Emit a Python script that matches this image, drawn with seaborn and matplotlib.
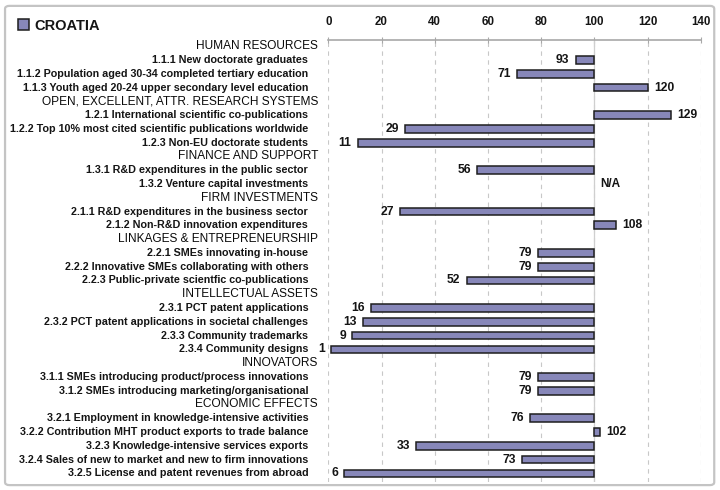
"""
Croatia innovation indicators - bars relative to EU = 100
"""
import numpy as np
import pandas as pd
import matplotlib.pyplot as plt
import seaborn as sns
from matplotlib.patches import Patch, FancyBboxPatch
from matplotlib.transforms import blended_transform_factory

sns.set_theme(style='white')
plt.rcParams['font.family'] = ['Liberation Sans', 'DejaVu Sans']

# --- data ---
labels = [
    'HUMAN RESOURCES',
    '1.1.1 New doctorate graduates',
    '1.1.2 Population aged 30-34 completed tertiary education',
    '1.1.3 Youth aged 20-24 upper secondary level education',
    'OPEN, EXCELLENT, ATTR. RESEARCH SYSTEMS',
    '1.2.1 International scientific co-publications',
    '1.2.2 Top 10% most cited scientific publications worldwide',
    '1.2.3 Non-EU doctorate students',
    'FINANCE AND SUPPORT',
    '1.3.1 R&D expenditures in the public sector',
    '1.3.2 Venture capital investments',
    'FIRM INVESTMENTS',
    '2.1.1 R&D expenditures in the business sector',
    '2.1.2 Non-R&D innovation expenditures',
    'LINKAGES & ENTREPRENEURSHIP',
    '2.2.1 SMEs innovating in-house',
    '2.2.2 Innovative SMEs collaborating with others',
    '2.2.3 Public-private scientfic co-publications',
    'INTELLECTUAL ASSETS',
    '2.3.1 PCT patent applications',
    '2.3.2 PCT patent applications in societal challenges',
    '2.3.3 Community trademarks',
    '2.3.4 Community designs',
    'INNOVATORS',
    '3.1.1 SMEs introducing product/process innovations',
    '3.1.2 SMEs introducing marketing/organisational',
    'ECONOMIC EFFECTS',
    '3.2.1 Employment in knowledge-intensive activities',
    '3.2.2 Contribution MHT product exports to trade balance',
    '3.2.3 Knowledge-intensive services exports',
    '3.2.4 Sales of new to market and new to firm innovations',
    '3.2.5 License and patent revenues from abroad',
]
# None = section heading, nan = not available
values = [None, 93, 71, 120,
          None, 129, 29, 11,
          None, 56, np.nan,
          None, 27, 108,
          None, 79, 79, 52,
          None, 16, 13, 9, 1,
          None, 79, 79,
          None, 76, 102, 33, 73, 6]
xticks = [0, 20, 40, 60, 80, 100, 120, 140]
country = 'CROATIA'

df = pd.DataFrame({'label': labels, 'value': values})
df['row'] = np.arange(len(df))
df['header'] = df['value'].isna() & df['label'].str.isupper()

bar_color = '#8787b9'
edge_color = '#1e1e1e'
text_color = '#151515'

fig = plt.figure(figsize=(7.2, 4.9), dpi=100)
ax = fig.add_axes([0.456, 0.017, 0.5172, 0.9014])

# figure frame
fig.patches.append(FancyBboxPatch((0.007, 0.01), 0.985, 0.978, boxstyle='round,pad=0,rounding_size=0.006',
                                  transform=fig.transFigure, fill=False, edgecolor='#c4c4c4', linewidth=1.6))

# bars from 100 to value
bars = df[df['value'].notna() & ~df['header']]
bars = bars[np.isfinite(bars['value'].astype(float))]
ax.barh(bars['row'], bars['value'].astype(float) - 100, left=100, height=0.56,
        color=bar_color, edgecolor=edge_color, linewidth=1.1, zorder=3)

for _, r in bars.iterrows():
    v = float(r['value'])
    if v < 100:
        ax.annotate(f'{v:.0f}', (v, r['row']), xytext=(-4.5, 0), textcoords='offset points',
                    ha='right', va='center', fontsize=8.7, fontweight='bold', color=text_color)
    else:
        ax.annotate(f'{v:.0f}', (v, r['row']), xytext=(4.5, 0), textcoords='offset points',
                    ha='left', va='center', fontsize=8.7, fontweight='bold', color=text_color)

# N/A rows
for _, r in df[~df['header'] & df['value'].isna()].iterrows():
    ax.annotate('N/A', (100, r['row']), xytext=(4, 0), textcoords='offset points',
                ha='left', va='center', fontsize=8.5, fontweight='bold', color=text_color)

# row labels
trans = blended_transform_factory(fig.transFigure, ax.transData)
for _, r in df.iterrows():
    if r['header']:
        ax.text(0.4417, r['row'], r['label'], transform=trans, ha='right', va='center',
                fontsize=8.6, color='#0a0a0a', clip_on=False)
    else:
        ax.text(0.428, r['row'], r['label'], transform=trans, ha='right', va='center',
                fontsize=7.75, fontweight='bold', color=text_color, clip_on=False)

# axes styling
ax.set_xlim(0, 140)
ax.set_ylim(31.6, -0.45)
ax.set_xticks(xticks)
ax.set_xticklabels([str(t) for t in xticks], fontsize=8.3, fontweight='bold', color=text_color)
ax.set_yticks([])
ax.xaxis.tick_top()
ax.tick_params(axis='x', direction='inout', length=5, width=0.8, color='#a8a8a8', pad=6)
for side in ['left', 'right', 'bottom']:
    ax.spines[side].set_visible(False)
ax.spines['top'].set_color('#a8a8a8')
ax.spines['top'].set_linewidth(1.2)
for t in xticks:
    ax.axvline(t, color='#c8c8c8', linestyle=(0, (4, 4)), linewidth=0.8, zorder=0)
ax.axvline(100, color='#cfcfcf', linewidth=0.9, zorder=1)

# legend / title
fig.legend(handles=[Patch(facecolor=bar_color, edgecolor=edge_color, linewidth=1.1, label=country)],
           loc='upper left', bbox_to_anchor=(0.025, 0.962), frameon=False, borderpad=0, borderaxespad=0,
           prop={'weight': 'bold', 'size': 10.5}, handlelength=0.75, handleheight=0.75, handletextpad=0.35,
           labelcolor=text_color)

fig.savefig('out.png', dpi=100)
